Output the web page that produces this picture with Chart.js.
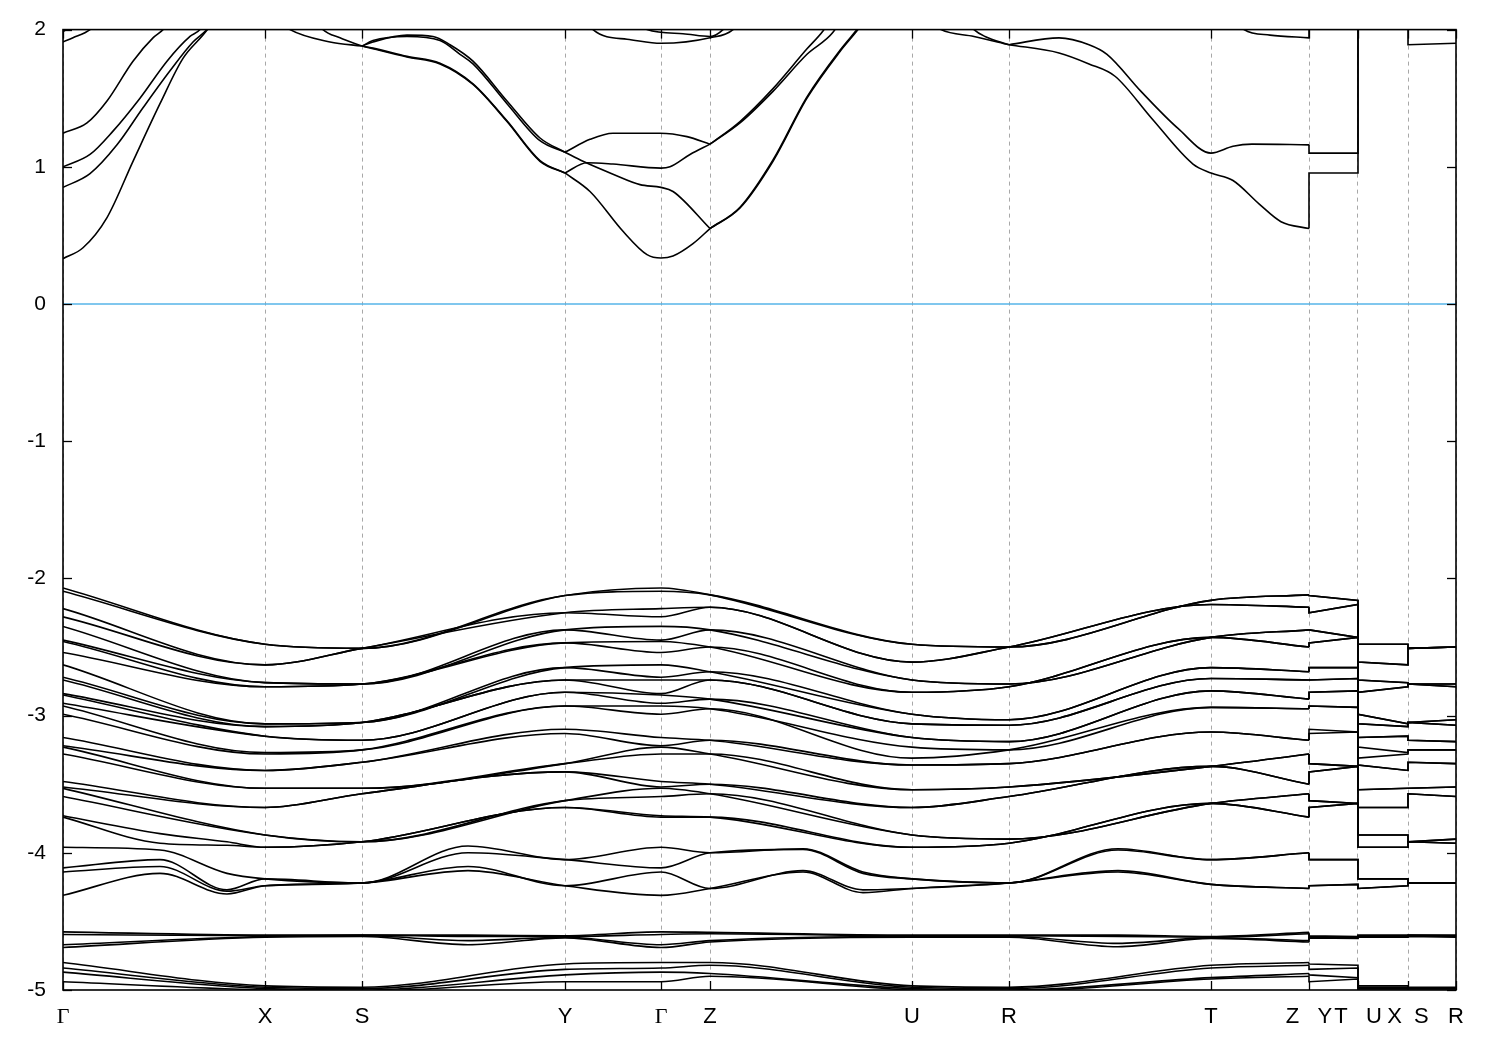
<!DOCTYPE html>
<html>
<head>
<meta charset="utf-8">
<title>Band structure</title>
<script src="https://cdn.jsdelivr.net/npm/chart.js@4/dist/chart.umd.min.js"></script>
<style>
  body { margin: 0; background: #fff; }
</style>
</head>
<body>
<canvas id="bands" width="1500" height="1050"></canvas>
<script>
// high-symmetry points along the path (path length, arbitrary units)
const kLabels = ['Γ', 'X', 'S', 'Y', 'Γ', 'Z', 'U', 'R', 'T', 'Z   Y', 'T   U', 'X  S', 'R'];
const kTicks = [0, 2.02, 2.99, 5.02, 5.98, 6.47, 8.49, 9.46, 11.48, 12.46, 12.95, 13.45, 13.93];
const yTicks = [2, 1, 0, -1, -2, -3, -4, -5];

// valence band energies (eV) at each high-symmetry point, sorted
const eGamma = [-2.07, -2.094, -2.22, -2.28, -2.35, -2.45, -2.46, -2.54, -2.63, -2.72, -2.74, -2.84, -2.85, -2.91, -2.93,
  -2.99, -3.16, -3.22, -3.23, -3.28, -3.48, -3.52, -3.53, -3.59, -3.73, -3.74, -3.96, -4.11, -4.14, -4.31,
  -4.576, -4.595, -4.67, -4.69, -4.80, -4.84, -4.87, -4.94];
const eX = [-2.48, -2.48, -2.63, -2.63, -2.76, -2.76, -2.79, -2.79, -3.06, -3.06, -3.08, -3.08, -3.15, -3.15, -3.27,
  -3.28, -3.40, -3.40, -3.53, -3.53, -3.67, -3.67, -3.87, -3.87, -3.96, -3.96, -4.19, -4.19, -4.24, -4.24,
  -4.60, -4.605, -4.61, -4.615, -4.97, -4.98, -4.99, -5.0];
const eS = [-2.51, -2.51, -2.51, -2.51, -2.77, -2.77, -2.77, -2.77, -3.05, -3.05, -3.05, -3.05, -3.18, -3.18, -3.25,
  -3.25, -3.34, -3.34, -3.53, -3.53, -3.57, -3.57, -3.92, -3.92, -3.92, -3.92, -4.22, -4.22, -4.22, -4.22,
  -4.60, -4.60, -4.605, -4.61, -4.98, -4.99, -5.0, -5.01];
const eY = [-2.125, -2.125, -2.25, -2.25, -2.375, -2.375, -2.47, -2.47, -2.65, -2.65, -2.74, -2.74, -2.83, -2.83, -2.93,
  -2.93, -3.10, -3.13, -3.35, -3.35, -3.41, -3.41, -3.62, -3.62, -3.67, -3.67, -4.05, -4.05, -4.24, -4.24,
  -4.605, -4.61, -4.615, -4.62, -4.81, -4.85, -4.89, -4.94];
const eZ = [-2.12, -2.12, -2.21, -2.21, -2.375, -2.375, -2.50, -2.50, -2.68, -2.68, -2.74, -2.74, -2.88, -2.88, -2.95,
  -2.95, -3.18, -3.18, -3.28, -3.28, -3.50, -3.50, -3.57, -3.57, -3.74, -3.74, -4.00, -4.00, -4.26, -4.26,
  -4.58, -4.59, -4.64, -4.65, -4.80, -4.82, -4.88, -4.90];
const eU = [-2.48, -2.48, -2.61, -2.61, -2.74, -2.74, -2.83, -2.83, -2.99, -2.99, -3.06, -3.06, -3.16, -3.16, -3.23,
  -3.31, -3.36, -3.36, -3.54, -3.54, -3.67, -3.67, -3.87, -3.87, -3.96, -3.96, -4.19, -4.19, -4.26, -4.26,
  -4.60, -4.605, -4.61, -4.615, -4.97, -4.98, -4.99, -5.0];
const eR = [-2.50, -2.50, -2.50, -2.50, -2.77, -2.77, -2.79, -2.79, -3.03, -3.03, -3.07, -3.07, -3.19, -3.19, -3.25,
  -3.25, -3.35, -3.35, -3.52, -3.52, -3.59, -3.59, -3.90, -3.90, -3.93, -3.93, -4.22, -4.22, -4.22, -4.22,
  -4.60, -4.605, -4.61, -4.615, -4.98, -4.99, -5.0, -5.01];
const eT = [-2.16, -2.16, -2.19, -2.19, -2.43, -2.43, -2.43, -2.43, -2.65, -2.65, -2.73, -2.73, -2.82, -2.82, -2.94,
  -2.94, -3.12, -3.12, -3.37, -3.37, -3.37, -3.37, -3.64, -3.64, -3.64, -3.64, -4.05, -4.05, -4.23, -4.23,
  -4.61, -4.615, -4.62, -4.625, -4.82, -4.84, -4.91, -4.92];

// extra readings between points where the lower bands bend (null = not read)
const _ = null;
const kMidGX1 = 0.97, kMidGX2 = 1.64, kMidSY = 4.05, kMidZU1 = 7.40, kMidZU2 = 8.00, kMidRT = 10.55;
const eMidGX1 = [_, _, _, _, _, _, _, _, _, _, _, _, _, _, _, _, _, _, _, _, _, _, _, _,
  -3.86, -3.93, -3.98, -4.05, -4.10, -4.15, _, _, _, _, _, _, _, _];
const eMidGX2 = [_, _, _, _, _, _, _, _, _, _, _, _, _, _, _, _, _, _, _, _, _, _, _, _,
  -3.92, -3.945, -4.15, -4.27, -4.28, -4.30, _, _, _, _, _, _, _, _];
const eMidSY = [_, _, _, _, _, _, _, _, _, _, _, _, _, _, _, _, _, _, _, _, _, _, _, _,
  _, _, -3.95, -4.00, -4.10, -4.13, -4.60, -4.61, -4.64, -4.67, _, _, _, _];
const eMidZU1 = [_, _, _, _, _, _, _, _, _, _, _, _, _, _, _, _, _, _, _, _, _, _, _, _,
  _, _, -3.97, -3.975, -4.13, -4.14, _, _, _, _, _, _, _, _];
const eMidZU2 = [_, _, _, _, _, _, _, _, _, _, _, _, _, _, _, _, _, _, _, _, _, _, _, _,
  _, _, -4.14, -4.15, -4.27, -4.29, _, _, _, _, _, _, _, _];
const eMidRT = [_, _, _, _, _, _, _, _, _, _, _, _, _, _, _, _, _, _, _, _, _, _, _, _,
  _, _, -3.97, -3.98, -4.13, -4.14, -4.60, -4.61, -4.66, -4.685, _, _, _, _];

// conduction band pieces: [k, E]
const cb1 = [[0, 0.33], [0.20, 0.41], [0.44, 0.63], [0.70, 1.04], [0.97, 1.46], [1.20, 1.79], [1.40, 1.96], [1.55, 2.1]];
const cb2 = [[0, 0.85], [0.27, 0.95], [0.54, 1.16], [0.80, 1.43], [1.07, 1.70], [1.30, 1.91], [1.44, 2.0], [1.55, 2.1]];
const cb3 = [[0, 1.0], [0.27, 1.09], [0.50, 1.26], [0.77, 1.50], [1.04, 1.77], [1.27, 1.95], [1.37, 2.0], [1.45, 2.1]];
const cb4 = [[0, 1.245], [0.24, 1.32], [0.44, 1.48], [0.70, 1.77], [0.90, 1.94], [1.00, 2.0], [1.1, 2.1]];
const cb5 = [[0, 1.91], [0.10, 1.94], [0.27, 2.0], [0.4, 2.1]];
const cb6 = [[0, 1.985], [0.15, 2.05]];
const cb7 = [[2.1, 2.1], [2.27, 2.0], [2.67, 1.91], [2.99, 1.88]];
const cb8 = [[2.5, 2.1], [2.60, 2.0], [2.77, 1.94], [2.99, 1.88]];
const cb9 = [[2.99, 1.88], [3.10, 1.91], [3.44, 1.96], [3.70, 1.95], [3.87, 1.89], [4.10, 1.77], [4.44, 1.48], [4.77, 1.21], [5.02, 1.106]];
const cb10 = [[2.99, 1.88], [3.10, 1.92], [3.44, 1.95], [3.77, 1.92], [3.97, 1.82], [4.10, 1.75], [4.44, 1.46], [4.77, 1.19], [5.02, 1.106]];
const cb11 = [[2.99, 1.88], [3.10, 1.86], [3.44, 1.80], [3.77, 1.75], [4.10, 1.60], [4.44, 1.33], [4.77, 1.04], [5.02, 0.955]];
const cb12 = [[2.99, 1.88], [3.10, 1.865], [3.44, 1.805], [3.77, 1.755], [4.10, 1.605], [4.44, 1.335], [4.77, 1.045], [5.02, 0.955]];
const cb13 = [[5.02, 1.106], [5.27, 1.20], [5.50, 1.245], [5.97, 1.245], [6.24, 1.22], [6.47, 1.165]];
const cb14 = [[5.02, 1.106], [5.20, 1.04], [5.50, 0.946], [5.77, 0.87], [5.98, 0.85], [6.10, 0.82], [6.47, 0.55]];
const cb15 = [[5.02, 0.955], [5.24, 1.03], [5.50, 1.02], [5.98, 0.99], [6.07, 1.0], [6.27, 1.09], [6.47, 1.165]];
const cb16 = [[5.02, 0.955], [5.27, 0.82], [5.60, 0.53], [5.84, 0.36], [5.98, 0.335], [6.10, 0.35], [6.30, 0.44], [6.47, 0.55]];
const cb17 = [[5.25, 2.1], [5.30, 2.0], [5.64, 1.93], [5.98, 1.90], [6.47, 1.94], [6.70, 2.0], [6.8, 2.1]];
const cb18 = [[5.7, 2.1], [5.84, 2.0], [6.2, 1.97], [6.47, 1.95], [6.6, 2.0], [6.7, 2.1]];
const cb19 = [[6.47, 1.165], [6.77, 1.33], [7.10, 1.57], [7.44, 1.86], [7.60, 1.99], [7.7, 2.1]];
const cb20 = [[6.47, 1.165], [6.77, 1.32], [7.10, 1.55], [7.44, 1.82], [7.70, 1.98], [7.8, 2.1]];
const cb21 = [[6.47, 0.55], [6.77, 0.70], [7.10, 1.04], [7.44, 1.50], [7.77, 1.84], [7.95, 2.0], [8.05, 2.1]];
const cb22 = [[6.47, 0.55], [6.77, 0.705], [7.10, 1.05], [7.44, 1.51], [7.77, 1.85], [7.94, 2.0], [8.05, 2.1]];
const cb23 = [[8.6, 2.1], [8.78, 2.0], [9.11, 1.95], [9.46, 1.89]];
const cb24 = [[9.0, 2.1], [9.11, 2.0], [9.22, 1.95], [9.46, 1.89]];
const cb25 = [[9.46, 1.89], [9.96, 1.94], [10.26, 1.89], [10.44, 1.82], [10.78, 1.55], [11.15, 1.28], [11.48, 1.10], [11.70, 1.15], [11.89, 1.165], [12.46, 1.16]];
const cb26 = [[9.46, 1.89], [9.96, 1.83], [10.26, 1.75], [10.52, 1.66], [10.89, 1.35], [11.30, 1.02], [11.48, 0.955], [11.70, 0.90], [11.96, 0.73], [12.18, 0.60], [12.46, 0.55]];
const cb27 = [[11.7, 2.1], [11.81, 2.0], [12.07, 1.96], [12.46, 1.94]];
// short segments at the end of the path (drawn straight)
const cbTail1 = [[12.46, 0.55], [12.46, 0.955], [12.95, 0.955], [12.95, 2.1]];
const cbTail2 = [[12.46, 1.16], [12.46, 1.10], [12.95, 1.10], [12.95, 2.1]];
const cbTail3 = [[12.46, 1.94], [12.46, 2.1]];
const cbTail4 = [[13.45, 2.1], [13.45, 1.89], [13.93, 1.90]];

const curvedPieces = [cb1, cb2, cb3, cb4, cb5, cb6, cb7, cb8, cb9, cb10, cb11, cb12, cb13, cb14, cb15, cb16, cb17, cb18,
  cb19, cb20, cb21, cb22, cb23, cb24, cb25, cb26, cb27];
const straightPieces = [cbTail1, cbTail2, cbTail3, cbTail4];

const fermiLevel = 0;

// ----- build datasets -----
const lineStyle = { borderColor: '#000', borderWidth: 1.6, pointRadius: 0, fill: false };
const mainNodes = [
  [kTicks[0], eGamma], [kMidGX1, eMidGX1], [kMidGX2, eMidGX2], [kTicks[1], eX], [kTicks[2], eS],
  [kMidSY, eMidSY], [kTicks[3], eY], [kTicks[4], eGamma], [kTicks[5], eZ], [kMidZU1, eMidZU1],
  [kMidZU2, eMidZU2], [kTicks[6], eU], [kTicks[7], eR], [kMidRT, eMidRT], [kTicks[8], eT], [kTicks[9], eZ]
];
const tailNodes = [
  [kTicks[9], eZ], [kTicks[9], eY], [kTicks[10], eT], [kTicks[10], eU],
  [kTicks[11], eX], [kTicks[11], eS], [kTicks[12], eR]
];
const datasets = [];

eGamma.forEach((_v, i) => {
  datasets.push({
    ...lineStyle,
    cubicInterpolationMode: 'monotone',
    data: mainNodes.filter(([, arr]) => arr[i] !== null).map(([k, arr]) => ({ x: k, y: arr[i] }))
  });
  datasets.push({
    ...lineStyle,
    tension: 0,
    data: tailNodes.map(([k, arr]) => ({ x: k, y: arr[i] }))
  });
});

curvedPieces.forEach(p => datasets.push({
  ...lineStyle, cubicInterpolationMode: 'monotone', data: p.map(([x, y]) => ({ x, y }))
}));
straightPieces.forEach(p => datasets.push({
  ...lineStyle, tension: 0, data: p.map(([x, y]) => ({ x, y }))
}));

datasets.push({
  borderColor: '#56b4e9', borderWidth: 1.5, pointRadius: 0, tension: 0,
  data: [{ x: kTicks[0], y: fermiLevel }, { x: kTicks[kTicks.length - 1], y: fermiLevel }]
});

// frame and inward tick marks, like gnuplot
const framePlugin = {
  id: 'frame',
  afterDatasetsDraw(chart) {
    const { ctx, chartArea: a, scales } = chart;
    ctx.save();
    ctx.strokeStyle = '#000';
    ctx.lineWidth = 1.3;
    const seg = (x1, y1, x2, y2) => { ctx.beginPath(); ctx.moveTo(x1, y1); ctx.lineTo(x2, y2); ctx.stroke(); };
    yTicks.forEach(v => {
      const py = Math.round(scales.y.getPixelForValue(v)) + 0.5;
      seg(a.left, py, a.left + 9, py);
      seg(a.right - 9, py, a.right, py);
    });
    kTicks.forEach(v => {
      const px = Math.round(scales.x.getPixelForValue(v)) + 0.5;
      seg(px, a.top, px, a.top + 9);
      seg(px, a.bottom - 9, px, a.bottom);
    });
    ctx.lineWidth = 1.6;
    ctx.strokeRect(a.left, a.top, a.right - a.left, a.bottom - a.top);
    ctx.restore();
  }
};

const ctx = document.getElementById('bands').getContext('2d');
new Chart(ctx, {
  type: 'line',
  data: { datasets },
  options: {
    responsive: false,
    animation: false,
    layout: { padding: { left: 0, right: 44, top: 28, bottom: 0 } },
    plugins: { legend: { display: false }, tooltip: { enabled: false } },
    scales: {
      x: {
        type: 'linear',
        min: kTicks[0],
        max: kTicks[kTicks.length - 1],
        afterBuildTicks: scale => { scale.ticks = kTicks.map(v => ({ value: v })); },
        afterFit: scale => { scale.height = 60; },
        grid: { color: '#a8a8a8', lineWidth: 1, drawTicks: false },
        border: { display: false, dash: [4, 4] },
        ticks: {
          autoSkip: false,
          maxRotation: 0,
          padding: 14,
          color: '#000',
          font: ctx => ({
            family: kLabels[ctx.index] === 'Γ' ? 'Liberation Serif' : 'Liberation Sans',
            size: 22
          }),
          callback: (v, i) => kLabels[i]
        }
      },
      y: {
        min: -5,
        max: 2,
        afterFit: scale => { scale.width = 63; },
        grid: { display: false, drawTicks: false },
        border: { display: false },
        ticks: {
          stepSize: 1,
          padding: 17,
          color: '#000',
          font: { family: 'Liberation Sans', size: 21 }
        }
      }
    }
  },
  plugins: [framePlugin]
});
</script>
</body>
</html>
